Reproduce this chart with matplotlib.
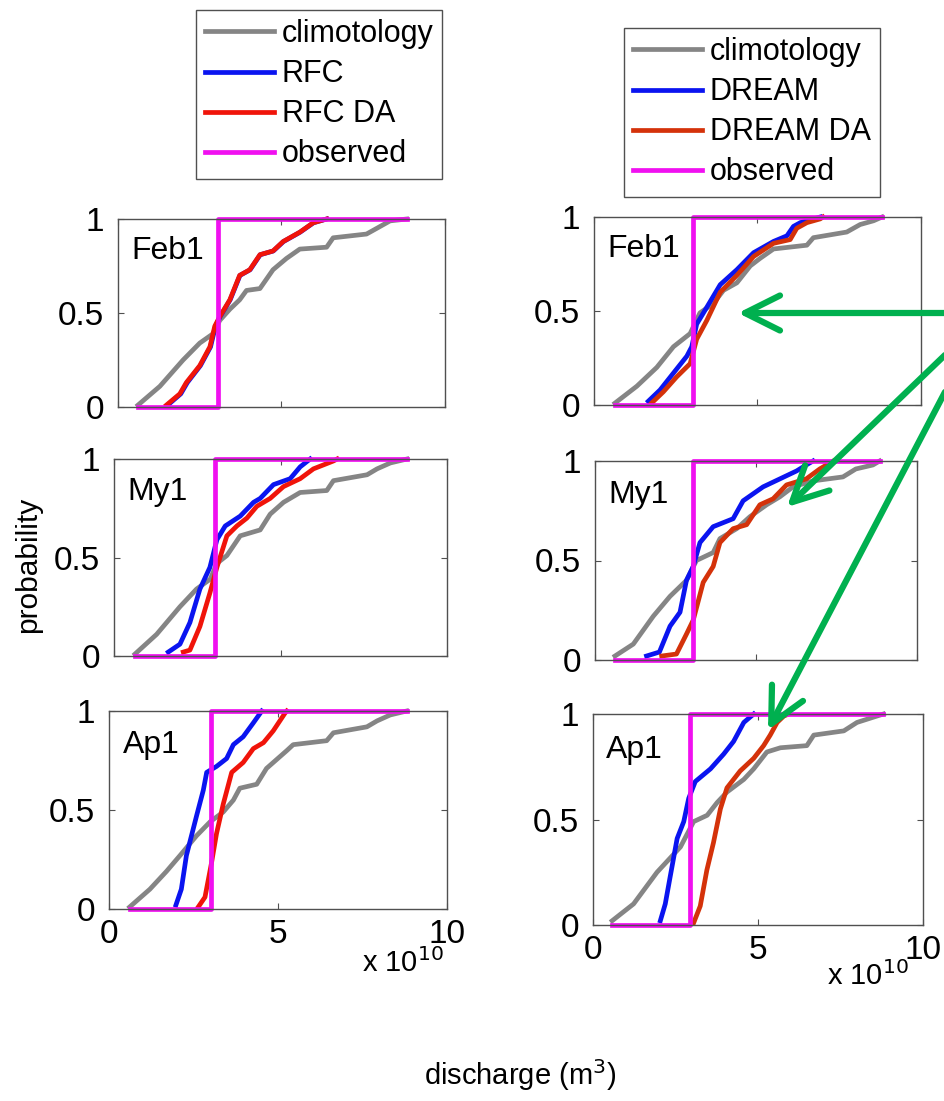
import numpy as np
import matplotlib
matplotlib.use("Agg")
import matplotlib.pyplot as plt

plt.rcParams['font.family'] = ['Liberation Sans', 'DejaVu Sans']

# discharge in units of 1e10 m^3, probability 0..1
# ---- left column (RFC) ----
feb_rfc_clim_x = [0.61, 1.28, 1.99, 2.50, 2.91, 3.11, 3.42, 3.72, 3.93, 4.34, 4.54, 4.74, 5.15, 5.56, 6.38, 6.58, 7.60, 7.91, 8.32, 8.83]
feb_rfc_clim_y = [0.01, 0.11, 0.25, 0.34, 0.39, 0.46, 0.52, 0.57, 0.62, 0.63, 0.68, 0.73, 0.79, 0.84, 0.85, 0.90, 0.92, 0.95, 0.99, 1.00]
feb_rfc_x = [1.52, 1.92, 2.12, 2.52, 2.83, 2.98, 3.12, 3.43, 3.73, 4.04, 4.35, 4.75, 5.06, 5.57, 5.98, 6.38]
feb_rfc_y = [0.01, 0.07, 0.13, 0.22, 0.32, 0.43, 0.48, 0.57, 0.70, 0.73, 0.81, 0.83, 0.88, 0.93, 0.98, 1.00]
feb_rfcda_x = [1.48, 1.89, 2.09, 2.50, 2.81, 2.96, 3.11, 3.42, 3.72, 4.03, 4.34, 4.74, 5.05, 5.56, 5.97, 6.38]
feb_rfcda_y = [0.01, 0.07, 0.13, 0.22, 0.32, 0.43, 0.48, 0.57, 0.70, 0.73, 0.81, 0.83, 0.88, 0.93, 0.98, 1.00]
feb_rfc_obs = 3.06

my_rfc_clim_x = [0.63, 1.28, 1.98, 2.48, 2.89, 3.09, 3.39, 3.79, 4.39, 4.69, 5.09, 5.59, 6.39, 6.59, 7.60, 7.90, 8.30, 8.80]
my_rfc_clim_y = [0.01, 0.11, 0.25, 0.34, 0.39, 0.47, 0.51, 0.61, 0.64, 0.72, 0.78, 0.83, 0.84, 0.89, 0.92, 0.95, 0.98, 1.00]
my_rfc_x = [1.63, 1.98, 2.28, 2.58, 2.88, 3.09, 3.34, 3.79, 4.19, 4.39, 4.79, 5.29, 5.59, 5.89]
my_rfc_y = [0.02, 0.06, 0.17, 0.34, 0.45, 0.59, 0.66, 0.71, 0.78, 0.80, 0.87, 0.90, 0.96, 1.00]
my_rfcda_x = [2.08, 2.28, 2.58, 2.88, 3.09, 3.39, 3.69, 3.99, 4.29, 4.69, 5.09, 5.59, 5.99, 6.59, 6.70]
my_rfcda_y = [0.02, 0.03, 0.15, 0.32, 0.45, 0.61, 0.66, 0.70, 0.76, 0.80, 0.86, 0.90, 0.95, 0.99, 1.00]
my_rfc_obs = 3.04

ap_rfc_clim_x = [0.61, 1.21, 1.70, 2.10, 2.59, 2.99, 3.38, 3.68, 3.87, 4.37, 4.66, 4.86, 5.26, 5.45, 6.44, 6.64, 7.63, 7.93, 8.32, 8.81]
ap_rfc_clim_y = [0.01, 0.10, 0.19, 0.27, 0.37, 0.44, 0.49, 0.55, 0.61, 0.63, 0.71, 0.74, 0.80, 0.83, 0.85, 0.89, 0.92, 0.95, 0.98, 1.00]
ap_rfc_x = [1.98, 2.14, 2.29, 2.44, 2.59, 2.79, 2.89, 3.18, 3.48, 3.68, 3.97, 4.27, 4.52]
ap_rfc_y = [0.02, 0.10, 0.27, 0.37, 0.47, 0.60, 0.69, 0.72, 0.76, 0.83, 0.87, 0.94, 1.00]
ap_rfcda_x = [2.64, 2.84, 3.03, 3.18, 3.38, 3.63, 3.97, 4.27, 4.57, 4.86, 5.21, 5.26]
ap_rfcda_y = [0.01, 0.06, 0.23, 0.38, 0.53, 0.69, 0.74, 0.81, 0.84, 0.90, 0.99, 1.00]
ap_rfc_obs = 3.03

# ---- right column (DREAM) ----
feb_dr_clim_x = [0.64, 1.31, 1.92, 2.43, 2.94, 3.24, 3.65, 3.96, 4.37, 4.78, 5.08, 5.49, 6.51, 6.71, 7.73, 8.14, 8.55, 8.81]
feb_dr_clim_y = [0.01, 0.10, 0.20, 0.31, 0.38, 0.49, 0.54, 0.61, 0.65, 0.74, 0.78, 0.83, 0.85, 0.89, 0.92, 0.96, 0.98, 1.00]
feb_dr_x = [1.66, 2.02, 2.43, 2.84, 2.99, 3.14, 3.45, 3.86, 4.37, 4.88, 5.49, 5.90, 6.10, 6.31, 6.71, 6.92]
feb_dr_y = [0.02, 0.08, 0.17, 0.26, 0.31, 0.43, 0.52, 0.64, 0.72, 0.81, 0.87, 0.90, 0.95, 0.97, 0.99, 1.00]
feb_drda_x = [1.76, 2.12, 2.53, 2.94, 3.14, 3.45, 3.86, 4.37, 4.88, 5.49, 6.00, 6.20, 6.51, 6.92, 7.00]
feb_drda_y = [0.01, 0.07, 0.15, 0.22, 0.35, 0.45, 0.60, 0.69, 0.79, 0.86, 0.88, 0.94, 0.97, 0.99, 1.00]
feb_dr_obs = 3.04

my_dr_clim_x = [0.62, 1.19, 1.81, 2.33, 2.84, 3.15, 3.67, 3.88, 4.40, 4.81, 5.33, 5.74, 6.15, 6.77, 7.70, 8.10, 8.63, 8.84]
my_dr_clim_y = [0.02, 0.08, 0.22, 0.32, 0.40, 0.50, 0.54, 0.61, 0.66, 0.72, 0.78, 0.82, 0.87, 0.90, 0.92, 0.96, 0.98, 1.00]
my_dr_x = [1.60, 2.00, 2.33, 2.64, 2.84, 3.05, 3.26, 3.67, 4.29, 4.60, 5.22, 5.74, 6.26, 6.56, 6.77]
my_dr_y = [0.02, 0.04, 0.17, 0.24, 0.40, 0.47, 0.59, 0.67, 0.71, 0.80, 0.87, 0.91, 0.95, 0.98, 1.00]
my_drda_x = [2.07, 2.53, 2.84, 3.05, 3.36, 3.67, 3.88, 4.29, 4.71, 5.12, 5.53, 5.95, 6.56, 6.98, 7.40]
my_drda_y = [0.02, 0.03, 0.13, 0.20, 0.39, 0.47, 0.59, 0.66, 0.68, 0.78, 0.81, 0.88, 0.91, 0.96, 1.00]
my_dr_obs = 3.05

ap_dr_clim_x = [0.58, 1.23, 1.94, 2.65, 3.05, 3.46, 3.76, 4.06, 4.57, 4.87, 5.27, 5.68, 6.48, 6.69, 7.60, 8.00, 8.40, 8.80]
ap_dr_clim_y = [0.02, 0.10, 0.25, 0.37, 0.49, 0.52, 0.58, 0.63, 0.69, 0.74, 0.82, 0.84, 0.85, 0.90, 0.92, 0.96, 0.98, 1.00]
ap_dr_x = [2.04, 2.19, 2.34, 2.55, 2.75, 2.90, 3.10, 3.56, 3.96, 4.26, 4.57, 4.87]
ap_dr_y = [0.02, 0.10, 0.23, 0.41, 0.49, 0.60, 0.68, 0.74, 0.81, 0.87, 0.96, 1.00]
ap_drda_x = [3.05, 3.25, 3.45, 3.65, 3.86, 4.06, 4.46, 4.87, 5.17, 5.37, 5.58, 5.78, 5.93]
ap_drda_y = [0.01, 0.09, 0.26, 0.39, 0.55, 0.65, 0.73, 0.79, 0.85, 0.90, 0.96, 0.99, 1.00]
ap_dr_obs = 2.93

panel_names = ["Feb1", "My1", "Ap1"]
left_labels = ["climotology", "RFC", "RFC DA", "observed"]
right_labels = ["climotology", "DREAM", "DREAM DA", "observed"]

c_clim = "#858585"
c_fc = "#0A14F0"
c_da_left = "#F0140A"
c_da_right = "#D4320A"
c_obs = "#F010F0"
spine_c = "#505050"

W, H = 945, 1101
fig = plt.figure(figsize=(W / 100, H / 100), dpi=100)


def px(l, t, r, b):
    return [l / W, 1 - b / H, (r - l) / W, (b - t) / H]


left_pos = [px(118, 219, 445, 407), px(114, 459, 447, 656), px(109, 711, 447, 909)]
right_pos = [px(594, 217, 921, 405), px(595, 461, 917, 660), px(593, 714, 923, 925)]

left_data = [
    (feb_rfc_clim_x, feb_rfc_clim_y, feb_rfc_x, feb_rfc_y, feb_rfcda_x, feb_rfcda_y, feb_rfc_obs),
    (my_rfc_clim_x, my_rfc_clim_y, my_rfc_x, my_rfc_y, my_rfcda_x, my_rfcda_y, my_rfc_obs),
    (ap_rfc_clim_x, ap_rfc_clim_y, ap_rfc_x, ap_rfc_y, ap_rfcda_x, ap_rfcda_y, ap_rfc_obs),
]
right_data = [
    (feb_dr_clim_x, feb_dr_clim_y, feb_dr_x, feb_dr_y, feb_drda_x, feb_drda_y, feb_dr_obs),
    (my_dr_clim_x, my_dr_clim_y, my_dr_x, my_dr_y, my_drda_x, my_drda_y, my_dr_obs),
    (ap_dr_clim_x, ap_dr_clim_y, ap_dr_x, ap_dr_y, ap_drda_x, ap_drda_y, ap_dr_obs),
]


def draw_panel(pos, data, name, da_color, bottom):
    ax = fig.add_axes(pos)
    cx, cy, fx, fy, dx, dy, obs = data
    lw = 3.4
    h_clim, = ax.plot(cx, cy, color=c_clim, lw=lw, clip_on=False)
    h_fc, = ax.plot(fx, fy, color=c_fc, lw=lw, clip_on=False)
    h_da, = ax.plot(dx, dy, color=da_color, lw=lw, clip_on=False)
    h_obs, = ax.plot([cx[0], obs, obs, cx[-1]], [0, 0, 1, 1], color=c_obs, lw=lw, clip_on=False)
    ax.set_xlim(0, 10)
    ax.set_ylim(0, 1)
    ax.set_xticks([0, 5, 10])
    ax.set_yticks([0, 0.5, 1])
    ax.set_yticklabels(["0", "0.5", "1"])
    if not bottom:
        ax.set_xticklabels([])
    ax.tick_params(direction="in", top=True, right=True, length=4, width=0.8,
                   color=spine_c, labelsize=24, pad=7)
    ax.tick_params(axis="y", pad=10)
    for s in ax.spines.values():
        s.set_color(spine_c)
        s.set_linewidth(1.0)
    ax.text(0.04, 0.83, name, transform=ax.transAxes, fontsize=23, va="center", ha="left")
    return ax, [h_clim, h_fc, h_da, h_obs]


for i in range(3):
    ax, hl = draw_panel(left_pos[i], left_data[i], panel_names[i], c_da_left, i == 2)
    if i == 0:
        left_handles = hl
    ax, hr = draw_panel(right_pos[i], right_data[i], panel_names[i], c_da_right, i == 2)
    if i == 0:
        right_handles = hr

leg_kw = dict(loc="upper left", fontsize=22, handlelength=2.25, handletextpad=0.25,
              labelspacing=0.33, borderpad=0.3, borderaxespad=0, fancybox=False,
              edgecolor=spine_c, framealpha=1)
lg1 = fig.legend(left_handles, left_labels, bbox_to_anchor=(196 / W, 1 - 10 / H), **leg_kw)
lg2 = fig.legend(right_handles, right_labels, bbox_to_anchor=(624 / W, 1 - 28 / H), **leg_kw)
for lg in (lg1, lg2):
    lg.get_frame().set_linewidth(1.0)

fig.text(28 / W, 1 - 565 / H, "probability", rotation=90, fontsize=21.5, ha="center", va="center")
fig.text(403 / W, 1 - 963 / H, r"x 10$^{10}$", fontsize=21, ha="center", va="center")
fig.text(868 / W, 1 - 976 / H, r"x 10$^{10}$", fontsize=21, ha="center", va="center")
fig.text(520 / W, 1 - 1075 / H, r"discharge (m$^3$)", fontsize=21, ha="center", va="center")

# green arrows
arrow_tails = [(945, 313), (945, 355), (945, 392)]
arrow_heads = [(738, 313), (787, 507), (768, 730)]
for (tx, ty), (hx, hy) in zip(arrow_tails, arrow_heads):
    fig.add_artist(matplotlib.patches.FancyArrowPatch(
        (tx / W, 1 - ty / H), (hx / W, 1 - hy / H), transform=fig.transFigure,
        arrowstyle="->,head_length=0.9,head_width=0.45", mutation_scale=28,
        color="#00B04F", lw=4.5, shrinkA=0, shrinkB=0, capstyle="round", joinstyle="round"))

fig.savefig("out.png", dpi=100)
